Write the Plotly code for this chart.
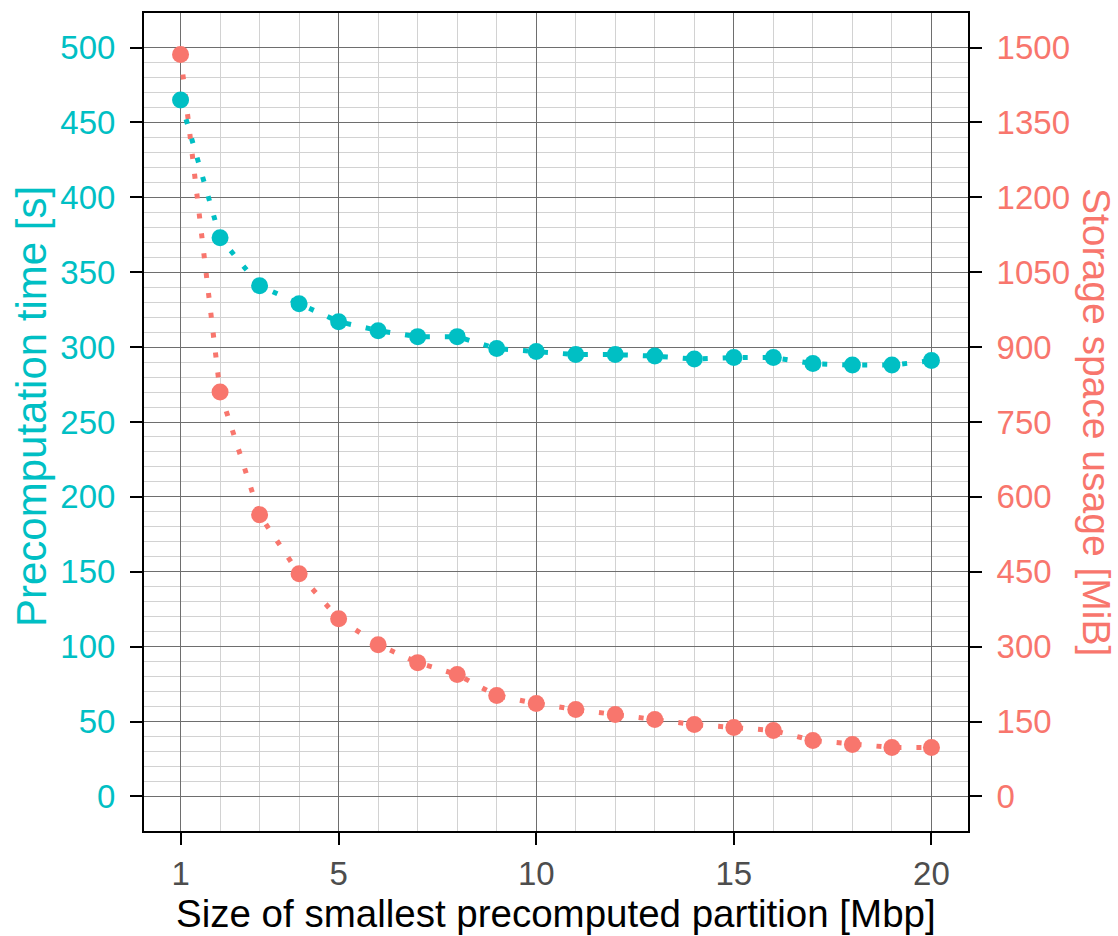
import plotly.graph_objects as go

# Data
partition_mbp = list(range(1, 21))
precomp_time_s = [465, 373, 341, 329, 317, 311, 307, 307, 299, 297,
                  295, 295, 294, 292, 293, 293, 289, 288, 288, 291]
storage_mib = [1486, 810, 564, 446, 356, 304, 268, 244, 202, 186,
               174, 164, 154, 144, 138, 132, 112, 104, 98, 98]

x_ticks = [1, 5, 10, 15, 20]
left_ticks = list(range(0, 501, 50))
right_ticks = list(range(0, 1501, 150))

CYAN = "#00BFC4"
SALMON = "#F8766D"
FONT = "Liberation Sans"
TICK_SIZE = 33

fig = go.Figure()

# storage on primary (right) axis, time on overlaying (left) axis so cyan sits on top
fig.add_trace(go.Scatter(
    x=partition_mbp, y=storage_mib, yaxis="y", mode="lines+markers",
    line=dict(color=SALMON, width=5, dash="5px,15px"),
    marker=dict(color=SALMON, size=17), showlegend=False))
fig.add_trace(go.Scatter(
    x=partition_mbp, y=precomp_time_s, yaxis="y2", mode="lines+markers",
    line=dict(color=CYAN, width=5, dash="5px,15px"),
    marker=dict(color=CYAN, size=17), showlegend=False))

minor_right = [v for v in range(30, 1500, 30) if v % 150 != 0]

fig.update_layout(
    width=1118, height=936,
    margin=dict(l=143, r=149, t=12, b=104),
    paper_bgcolor="white", plot_bgcolor="white",
    font=dict(family=FONT, size=TICK_SIZE, color="#4D4D4D"),
    xaxis=dict(
        range=[0.05, 20.95], tickmode="array", tickvals=x_ticks,
        ticktext=[str(v) for v in x_ticks],
        showgrid=True, gridcolor="#6e6e6e", gridwidth=1,
        minor=dict(tickmode="linear", tick0=0, dtick=1, showgrid=True,
                   gridcolor="#d2d2d2", gridwidth=1, ticks=""),
        ticks="outside", ticklen=12, tickwidth=2, tickcolor="black",
        tickfont=dict(family=FONT, size=TICK_SIZE, color="#4D4D4D"),
        showline=False, zeroline=False, ticklabelstandoff=0,
    ),
    yaxis=dict(
        side="right", range=[-71.25, 1571.25], tickmode="array",
        tickvals=right_ticks, ticktext=[str(v) for v in right_ticks],
        showgrid=True, gridcolor="#6e6e6e", gridwidth=1,
        minor=dict(tickmode="array", tickvals=minor_right, showgrid=True,
                   gridcolor="#d2d2d2", gridwidth=1, ticks=""),
        ticks="outside", ticklen=12, tickwidth=2, tickcolor="black",
        tickfont=dict(family=FONT, size=TICK_SIZE, color=SALMON),
        showline=False, zeroline=False, ticklabelstandoff=8,
    ),
    yaxis2=dict(
        side="left", overlaying="y", range=[-23.75, 523.75], tickmode="array",
        tickvals=left_ticks, ticktext=[str(v) for v in left_ticks],
        showgrid=False, ticks="outside", ticklen=12, tickwidth=2, tickcolor="black",
        tickfont=dict(family=FONT, size=TICK_SIZE, color=CYAN),
        showline=False, zeroline=False, ticklabelstandoff=8,
    ),
    shapes=[dict(type="rect", xref="paper", yref="paper", x0=0, x1=1, y0=0, y1=1,
                 line=dict(color="black", width=2), layer="above")],
    annotations=[
        dict(text="Size of smallest precomputed partition [Mbp]", xref="paper", yref="paper",
             x=0.5, y=0, yshift=-81, showarrow=False, xanchor="center", yanchor="middle",
             borderpad=0, font=dict(family=FONT, size=38.5, color="black")),
        dict(text="Precomputation time [s]", xref="paper", yref="paper",
             x=0, xshift=-112, y=0.5, yshift=15, showarrow=False, textangle=-90,
             xanchor="center", yanchor="middle", borderpad=0,
             font=dict(family=FONT, size=42, color=CYAN)),
        dict(text="Storage space usage [MiB]", xref="paper", yref="paper",
             x=1, xshift=128, y=0.5, showarrow=False, textangle=90,
             xanchor="center", yanchor="middle", borderpad=0,
             font=dict(family=FONT, size=39, color=SALMON)),
    ],
)

fig.write_html("out.html")
